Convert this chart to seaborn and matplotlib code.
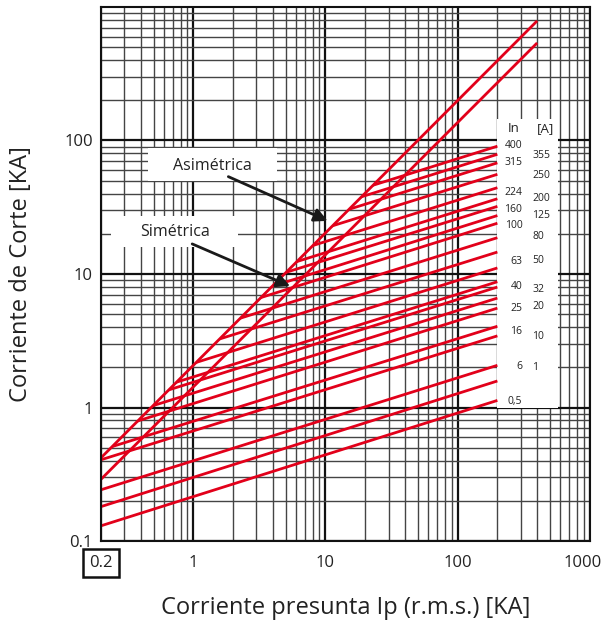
import matplotlib
matplotlib.use('Agg')
import matplotlib.pyplot as plt
import seaborn as sns
import pandas as pd
import numpy as np
from matplotlib.patches import Rectangle, Polygon
from matplotlib.ticker import LogLocator, NullFormatter
from matplotlib.transforms import ScaledTranslation

sns.set_style('white')
plt.rcParams['font.family'] = ['Open Sans', 'DejaVu Sans']

# --- données ---
# courant de coupure (kA) au début (Ip = 0.2 kA) et à la fin (Ip = 200 kA) de chaque droite
cut_x = [0.2, 200]
cut_start = [10.6, 9.3, 8.0, 6.6, 5.2, 4.3, 3.8, 3.2, 2.8, 2.2, 1.72,
             1.30, 1.03, 0.94, 0.78, 0.65, 0.48, 0.406, 0.242, 0.181, 0.13]
cut_end = [90.6, 78.8, 68.0, 55.8, 44.3, 36.6, 32.1, 27.4, 24.0, 18.7, 14.6,
           11.1, 8.75, 7.98, 6.6, 5.55, 4.06, 3.44, 2.07, 1.58, 1.13]

# droites de crête
peak_x = [0.2, 400]
asym_y = [0.42, 787]
sym_y = [0.29, 538]

# étiquettes des calibres
col1_labels = ['400', '315', '224', '160', '100', '63', '40', '25', '16', '6', '0,5']
col1_y = [91.7, 68.3, 40.6, 30.3, 23.0, 12.3, 8.12, 5.55, 3.73, 2.03, 1.11]
col2_labels = ['355', '250', '200', '125', '80', '50', '32', '20', '10', '1']
col2_y = [77.1, 54.6, 36.6, 27.3, 19.0, 12.7, 7.71, 5.75, 3.42, 2.0]

x_ticks = [0.2, 1, 10, 100, 1000]
x_ticklabels = ['0.2', '1', '10', '100', '1000']
y_ticks = [0.1, 1, 10, 100]
y_ticklabels = ['0.1', '1', '10', '100']

RED = '#e2001a'
TXT = '#222222'

rows = []
for i, (a, b) in enumerate(zip(cut_start, cut_end)):
    rows.append({'curve': i, 'Ip': cut_x[0], 'Ic': a})
    rows.append({'curve': i, 'Ip': cut_x[1], 'Ic': b})
df_cut = pd.DataFrame(rows)

df_peak = pd.DataFrame({
    'curve': ['asym', 'asym', 'sym', 'sym'],
    'Ip': peak_x + peak_x,
    'Ic': asym_y + sym_y,
})

fig = plt.figure(figsize=(6.03, 6.23), dpi=100)
ax = fig.add_axes([0.1675, 0.1316, 0.8105, 0.8572])
ax.set_xscale('log')
ax.set_yscale('log')
ax.set_xlim(0.2, 1000)
ax.set_ylim(0.1, 1000)

# droites des calibres, coupées par la droite asymétrique
sns.lineplot(data=df_cut, x='Ip', y='Ic', units='curve', estimator=None,
             color=RED, lw=2.0, ax=ax, legend=False)
clip = Polygon([(peak_x[0], asym_y[0]), (peak_x[1], asym_y[1]),
                (peak_x[1], 1e-3), (peak_x[0], 1e-3)], closed=True,
               transform=ax.transData)
for ln in ax.lines:
    ln.set_clip_path(clip)
    ln.set_solid_capstyle('butt')
    ln.set_zorder(2)

n_before = len(ax.lines)
sns.lineplot(data=df_peak, x='Ip', y='Ic', units='curve', estimator=None,
             color=RED, lw=2.0, ax=ax, legend=False)
for ln in ax.lines[n_before:]:
    ln.set_solid_capstyle('butt')
    ln.set_zorder(2)

# grille
ax.xaxis.set_minor_locator(LogLocator(base=10, subs=np.arange(2, 10)))
ax.yaxis.set_minor_locator(LogLocator(base=10, subs=np.arange(2, 10)))
ax.set_axisbelow(True)
ax.grid(which='major', color='#111111', lw=1.6)
ax.grid(which='minor', color='#444444', lw=1.0)

ax.set_xticks(x_ticks, labels=x_ticklabels)
ax.set_yticks(y_ticks, labels=y_ticklabels)
ax.xaxis.set_minor_formatter(NullFormatter())
ax.yaxis.set_minor_formatter(NullFormatter())
ax.tick_params(which='both', length=0)
ax.tick_params(axis='x', pad=10, labelsize=12, labelcolor=TXT)
ax.tick_params(axis='y', pad=6, labelsize=12, labelcolor=TXT)
xlabs = ax.get_xticklabels()
xlabs[0].set_bbox(dict(boxstyle='square,pad=0.38', fc='white', ec='#111111', lw=1.8))
xlabs[-1].set_transform(xlabs[-1].get_transform() + ScaledTranslation(-7 / 100, 0, fig.dpi_scale_trans))

for s in ax.spines.values():
    s.set_color('#111111')
    s.set_linewidth(1.5)

# encadré des calibres
ax.add_patch(Rectangle((200, 1.0), 378, 145, fc='white', ec='none', zorder=1.5))
ax.text(238, 123, 'In', fontsize=9.5, ha='left', va='center', color=TXT, zorder=3)
ax.text(395, 123, '[A]', fontsize=9.5, ha='left', va='center', color=TXT, zorder=3)
for lab, yv in zip(col1_labels, col1_y):
    ax.text(309, yv, lab, fontsize=7.5, ha='right', va='center', color=TXT, zorder=3)
for lab, yv in zip(col2_labels, col2_y):
    ax.text(368, yv, lab, fontsize=7.5, ha='left', va='center', color=TXT, zorder=3)

# annotations
ax.add_patch(Rectangle((0.457, 50.0), 4.31 - 0.457, 87.1 - 50.0, fc='white', ec='none', zorder=1.5))
ax.add_patch(Rectangle((0.236, 16.0), 2.19 - 0.236, 27.3 - 16.0, fc='white', ec='none', zorder=1.5))
ax.annotate('', xy=(10.4, 25.0), xytext=(1.84, 53.6),
            arrowprops=dict(arrowstyle='-|>', color='#1a1a1a', lw=2.0, mutation_scale=20,
                            shrinkA=0, shrinkB=0), zorder=3)
ax.annotate('', xy=(5.4, 8.1), xytext=(0.98, 16.8),
            arrowprops=dict(arrowstyle='-|>', color='#1a1a1a', lw=2.0, mutation_scale=20,
                            shrinkA=0, shrinkB=0), zorder=3)
ax.text(1.39, 64.9, 'Asimétrica', fontsize=11.5, ha='center', va='center', color=TXT, zorder=3)
ax.text(0.73, 20.7, 'Simétrica', fontsize=11.5, ha='center', va='center', color=TXT, zorder=3)

ax.set_xlabel('Corriente presunta Ip (r.m.s.) [KA]', fontsize=17, color=TXT, labelpad=18)
ax.set_ylabel('Corriente de Corte [KA]', fontsize=17, color=TXT)
ax.yaxis.set_label_coords(-0.139, 0.5)

fig.savefig('out.png', dpi=100)
